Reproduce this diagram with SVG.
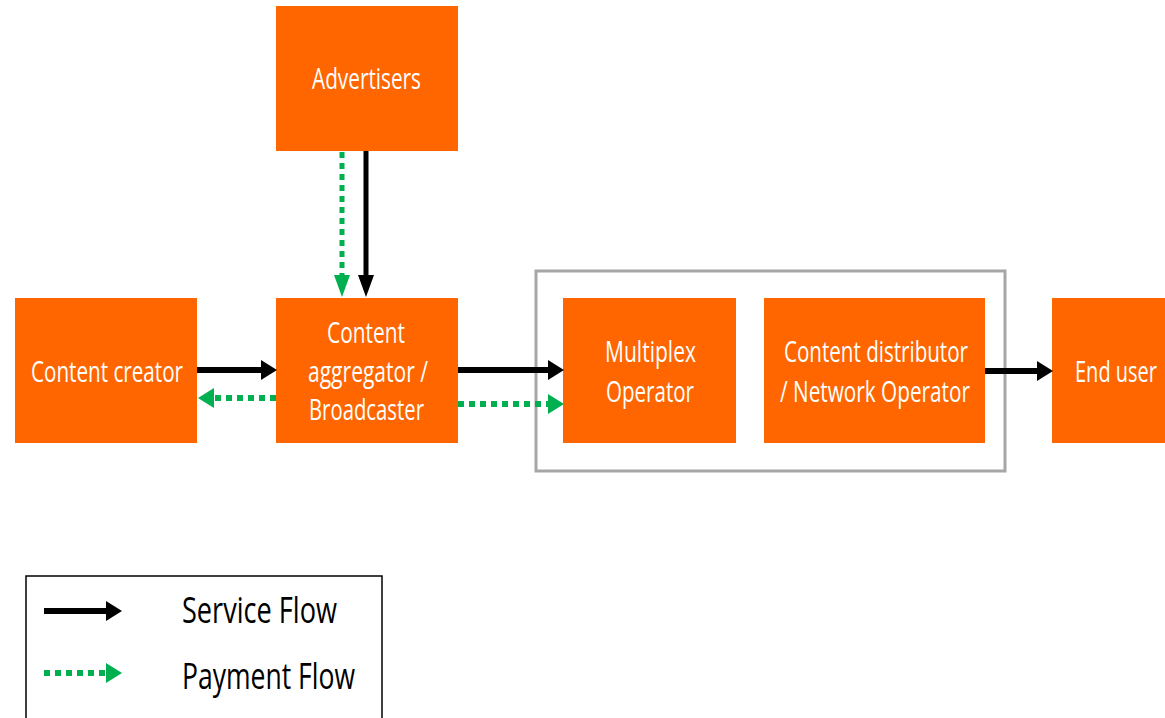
<svg xmlns="http://www.w3.org/2000/svg" width="1165" height="718" viewBox="0 0 1165 718">
<style>
.node{fill:#ff6600}
.lbl{font-family:"Open Sans","Liberation Sans",sans-serif;font-size:29px;fill:#ffffff}
.leg{font-family:"Open Sans","Liberation Sans",sans-serif;font-size:36px;fill:#000000}
.svc{stroke:#000;fill:none}
.pay{stroke:#00b050;fill:none;stroke-dasharray:6 5}
</style>
<defs>
<marker id="ab" markerUnits="userSpaceOnUse" markerWidth="16" markerHeight="20" refX="0" refY="10" orient="auto" overflow="visible"><path d="M0,0 L16,10 L0,20 Z" fill="#000"/></marker>
<marker id="ag" markerUnits="userSpaceOnUse" markerWidth="16" markerHeight="20" refX="0" refY="10" orient="auto" overflow="visible"><path d="M0,0 L16,10 L0,20 Z" fill="#00b050"/></marker>
<marker id="abv" markerUnits="userSpaceOnUse" markerWidth="22" markerHeight="16" refX="0" refY="8" orient="auto" overflow="visible"><path d="M0,0 L22,8 L0,16 Z" fill="#000"/></marker>
<marker id="agv" markerUnits="userSpaceOnUse" markerWidth="22" markerHeight="16" refX="0" refY="8" orient="auto" overflow="visible"><path d="M0,0 L22,8 L0,16 Z" fill="#00b050"/></marker>
</defs>
<rect width="1165" height="718" fill="#ffffff"/>

<g id="operator-group">
<rect x="536" y="271" width="469" height="200" fill="none" stroke="#a6a6a6" stroke-width="3"/>
</g>

<g id="advertisers">
<rect class="node" x="276" y="6" width="182" height="145"/>
<text class="lbl" x="312" y="89" textLength="109" lengthAdjust="spacingAndGlyphs">Advertisers</text>
</g>
<g id="content-creator">
<rect class="node" x="15" y="298" width="182" height="145"/>
<text class="lbl" x="31" y="382" textLength="152" lengthAdjust="spacingAndGlyphs">Content creator</text>
</g>
<g id="content-aggregator">
<rect class="node" x="276" y="298" width="182" height="145"/>
<text class="lbl" x="327" y="343" textLength="78" lengthAdjust="spacingAndGlyphs">Content</text>
<text class="lbl" x="308" y="382" textLength="120" lengthAdjust="spacingAndGlyphs">aggregator /</text>
<text class="lbl" x="309" y="420" textLength="115" lengthAdjust="spacingAndGlyphs">Broadcaster</text>
</g>
<g id="multiplex-operator">
<rect class="node" x="563" y="298" width="173" height="145"/>
<text class="lbl" x="605" y="362" textLength="91" lengthAdjust="spacingAndGlyphs">Multiplex</text>
<text class="lbl" x="606" y="402" textLength="88" lengthAdjust="spacingAndGlyphs">Operator</text>
</g>
<g id="content-distributor">
<rect class="node" x="764" y="298" width="221" height="145"/>
<text class="lbl" x="784" y="362" textLength="184" lengthAdjust="spacingAndGlyphs">Content distributor</text>
<text class="lbl" x="780" y="402" textLength="190" lengthAdjust="spacingAndGlyphs">/ Network Operator</text>
</g>
<g id="end-user">
<rect class="node" x="1052" y="298" width="113" height="145"/>
<text class="lbl" transform="translate(1075,382) scale(0.69,1)" x="0" y="0">End user</text>
</g>

<g id="connectors">
<path class="pay" d="M342,152 V275" stroke-width="5" marker-end="url(#agv)"/>
<path class="svc" d="M366,151 V275" stroke-width="5" marker-end="url(#abv)"/>
<path class="svc" d="M197,370 H261" stroke-width="6" marker-end="url(#ab)"/>
<path class="pay" d="M276,398 H214" stroke-width="6" marker-end="url(#ag)"/>
<path class="svc" d="M458,370 H548" stroke-width="6" marker-end="url(#ab)"/>
<path class="pay" d="M458,404 H548" stroke-width="6" marker-end="url(#ag)"/>
<path class="svc" d="M985,371 H1037" stroke-width="6" marker-end="url(#ab)"/>
</g>

<g id="legend">
<rect x="26" y="576" width="356" height="160" fill="#ffffff" stroke="#000" stroke-width="1.5"/>
<path class="svc" d="M44,611 H106" stroke-width="6" marker-end="url(#ab)"/>
<path class="pay" d="M44,673 H106" stroke-width="6" marker-end="url(#ag)"/>
<text class="leg" x="182" y="623" textLength="155" lengthAdjust="spacingAndGlyphs">Service Flow</text>
<text class="leg" x="182" y="689" textLength="173" lengthAdjust="spacingAndGlyphs">Payment Flow</text>
</g>
</svg>
